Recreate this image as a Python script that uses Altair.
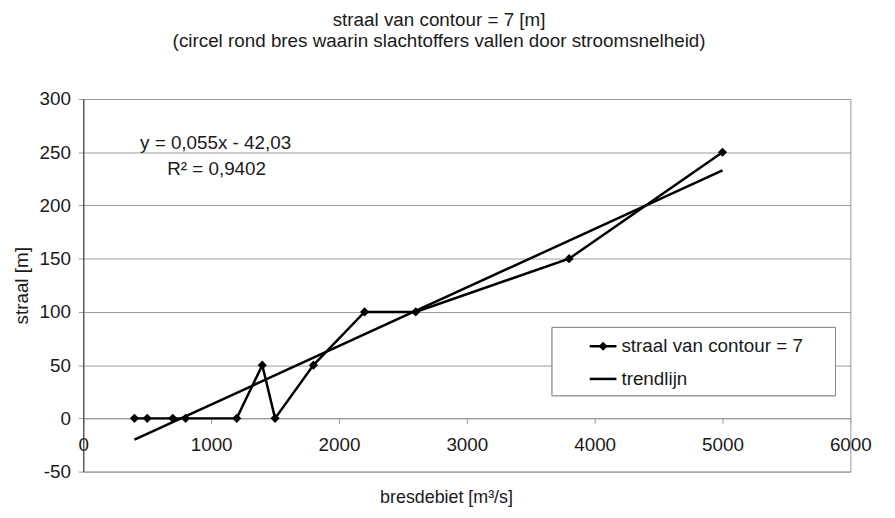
import altair as alt
import pandas as pd

# ---- data ----
debiet = [400, 500, 700, 800, 1200, 1400, 1500, 1800, 2200, 2600, 3800, 5000]
straal = [0, 0, 0, 0, 0, 50, 0, 50, 100, 100, 150, 250]
series_names = ["straal van contour = 7", "trendlijn"]
eq_lines = ["y = 0,055x - 42,03", "R² = 0,9402"]
title_lines = ["straal van contour = 7 [m]",
               "(circel rond bres waarin slachtoffers vallen door stroomsnelheid)"]
x_ticks = [0, 1000, 2000, 3000, 4000, 5000, 6000]
y_ticks = [-50, 0, 50, 100, 150, 200, 250, 300]

FONT = "Liberation Sans"
TXT = "#1a1a1a"
GRID = "#9a9a9a"

df = pd.DataFrame({"debiet": debiet, "straal": straal})
xscale = alt.Scale(domain=[0, 6000], nice=False, zero=False)
yscale = alt.Scale(domain=[-50, 300], nice=False)

x_axis = alt.Axis(values=x_ticks, title="bresdebiet [m³/s]", grid=False,
                  offset=-53.7, domainColor=GRID, tickColor=GRID, tickSize=5,
                  labelPadding=12, labelFontSize=19, labelFont=FONT, labelColor=TXT,
                  labelExpr="'' + datum.value",
                  titleFontSize=18, titleFont=FONT, titleColor=TXT, titleFontWeight="normal",
                  titleX=366, titleY=80, titleBaseline="middle", titleAlign="center",
                  labelFlush=False)
y_axis = alt.Axis(values=y_ticks, title="straal [m]", grid=True, gridColor=GRID,
                  domainColor="#333333", tickColor=GRID, tickSize=5, labelPadding=8,
                  labelFontSize=19, labelFont=FONT, labelColor=TXT,
                  labelExpr="'' + datum.value",
                  titleFontSize=19, titleFont=FONT, titleColor=TXT, titleFontWeight="normal",
                  titleX=-62, titleY=188, titleBaseline="middle", titleAlign="center")

base = alt.Chart(df)
line = base.mark_line(color="black", strokeWidth=2.5).encode(
    x=alt.X("debiet:Q", scale=xscale, axis=x_axis),
    y=alt.Y("straal:Q", scale=yscale, axis=y_axis),
)
points = base.mark_point(shape="diamond", filled=True, color="black", size=85, opacity=1).encode(
    x=alt.X("debiet:Q", scale=xscale), y=alt.Y("straal:Q", scale=yscale))
trend = base.transform_regression("debiet", "straal").mark_line(
    color="black", strokeWidth=2.5).encode(
    x=alt.X("debiet:Q", scale=xscale), y=alt.Y("straal:Q", scale=yscale))

# ---- legend box (drawn in pixel space of the plot area) ----
row_y = [249.5, 282.5]
legend_layers = [
    alt.Chart(pd.DataFrame({"serie": series_names})).mark_rect(
        fill="white", stroke="#888888", strokeWidth=1).encode(
        x=alt.value(473), x2=alt.value(759), y=alt.value(230.5), y2=alt.value(299.5))
]
for i, name in enumerate(series_names):
    row = alt.Chart(pd.DataFrame({"serie": [name]}))
    legend_layers.append(row.mark_rule(color="black", strokeWidth=2.5).encode(
        x=alt.value(511), x2=alt.value(538), y=alt.value(row_y[i])))
    if i == 0:
        legend_layers.append(row.mark_point(
            shape="diamond", filled=True, color="black", size=85, opacity=1).encode(
            x=alt.value(524.5), y=alt.value(row_y[i])))
    legend_layers.append(row.mark_text(
        font=FONT, fontSize=19, color=TXT, align="left", baseline="middle").encode(
        x=alt.value(543), y=alt.value(row_y[i]), text="serie:N"))

eq1 = alt.Chart(pd.DataFrame({"t": [eq_lines[0]]})).mark_text(
    font=FONT, fontSize=19, color=TXT, baseline="middle", align="center").encode(
    text="t:N", x=alt.value(133.5), y=alt.value(44.5))
eq2 = alt.Chart(pd.DataFrame({"t": [eq_lines[1]]})).mark_text(
    font=FONT, fontSize=19, color=TXT, baseline="middle", align="center").encode(
    text="t:N", x=alt.value(134.5), y=alt.value(70.5))

chart = alt.layer(line, trend, points, *legend_layers, eq1, eq2).properties(
    width=774, height=376,
    title=alt.TitleParams(text=title_lines, font=FONT, fontSize=19, fontWeight="normal",
                          color=TXT, anchor="middle", dx=-28, offset=39, lineHeight=22),
    autosize=alt.AutoSizeParams(type="none"),
    padding={"left": 76, "top": 89.5, "right": 37, "bottom": 44},
    background="white",
).configure_view(stroke=GRID, strokeWidth=1)

chart.save("out.html", embed_options={"renderer": "svg", "actions": False})
